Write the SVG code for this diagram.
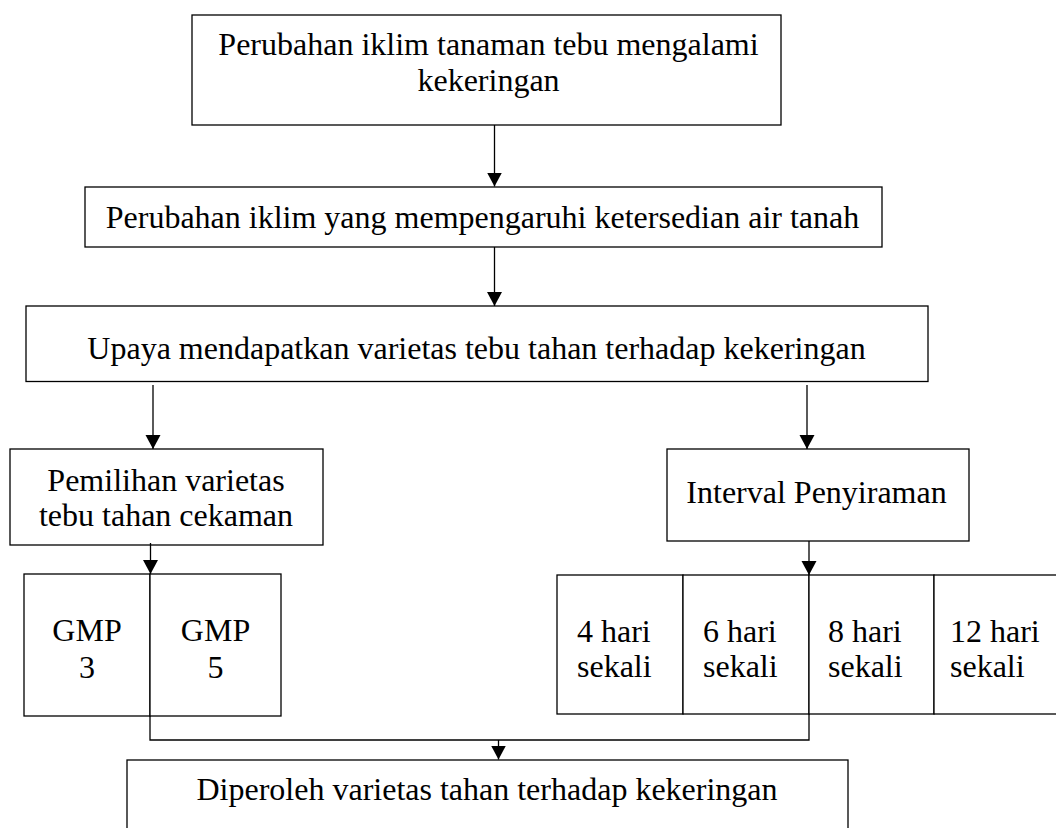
<svg xmlns="http://www.w3.org/2000/svg" width="1056" height="828" viewBox="0 0 1056 828">
<defs>
<style>
.box{fill:#fff;stroke:#000;stroke-width:1.3}
.ln{fill:none;stroke:#000;stroke-width:1.3}
.t{font-family:"Liberation Serif","Times New Roman",serif;font-size:32px;fill:#000}
.c{text-anchor:middle}
</style>
<marker id="ah" markerUnits="userSpaceOnUse" markerWidth="16" markerHeight="16" refX="14" refY="7.5" orient="auto">
<path d="M0,0 L14,7.5 L0,15 z" fill="#000"/>
</marker>
</defs>
<rect width="1056" height="828" fill="#fff"/>
<g id="n1">
<rect class="box" x="192" y="15" width="589" height="110"/>
<text class="t c" x="488.5" y="55">Perubahan iklim tanaman tebu mengalami</text>
<text class="t c" x="488.5" y="91">kekeringan</text>
</g>
<g id="n2">
<rect class="box" x="85" y="187" width="797" height="60"/>
<text class="t c" x="482.5" y="228">Perubahan iklim yang mempengaruhi ketersedian air tanah</text>
</g>
<g id="n3">
<rect class="box" x="26" y="306" width="902" height="75.5"/>
<text class="t c" x="476.5" y="359">Upaya mendapatkan varietas tebu tahan terhadap kekeringan</text>
</g>
<g id="n4">
<rect class="box" x="10" y="449" width="313" height="96"/>
<text class="t c" x="166" y="491">Pemilihan varietas</text>
<text class="t c" x="166" y="526">tebu tahan cekaman</text>
</g>
<g id="n5">
<rect class="box" x="667" y="449" width="302" height="92"/>
<text class="t c" x="816.5" y="503">Interval Penyiraman</text>
</g>
<g id="n6">
<rect class="box" x="24" y="574" width="126" height="142"/>
<text class="t c" x="87" y="641">GMP</text>
<text class="t c" x="87" y="678">3</text>
</g>
<g id="n7">
<rect class="box" x="150" y="574" width="131" height="142"/>
<text class="t c" x="215.5" y="641">GMP</text>
<text class="t c" x="215.5" y="678">5</text>
</g>
<g id="n8">
<rect class="box" x="557" y="575" width="126" height="139"/>
<text class="t" x="577" y="642">4 hari</text>
<text class="t" x="577" y="677">sekali</text>
</g>
<g id="n9">
<rect class="box" x="683" y="575" width="126" height="139"/>
<text class="t" x="703" y="642">6 hari</text>
<text class="t" x="703" y="677">sekali</text>
</g>
<g id="n10">
<rect class="box" x="809" y="575" width="125" height="139"/>
<text class="t" x="828" y="642">8 hari</text>
<text class="t" x="828" y="677">sekali</text>
</g>
<g id="n11">
<rect class="box" x="934" y="575" width="130" height="139"/>
<text class="t" x="950" y="642">12 hari</text>
<text class="t" x="950" y="677">sekali</text>
</g>
<g id="n12">
<rect class="box" x="127" y="760" width="721" height="90"/>
<text class="t c" x="487" y="800">Diperoleh varietas tahan terhadap kekeringan</text>
</g>
<g id="connectors">
<line class="ln" x1="494.5" y1="125" x2="494.5" y2="186.5" marker-end="url(#ah)"/>
<line class="ln" x1="494.5" y1="247" x2="494.5" y2="306" marker-end="url(#ah)"/>
<line class="ln" x1="153" y1="385" x2="153" y2="449" marker-end="url(#ah)"/>
<line class="ln" x1="807" y1="385" x2="807" y2="449" marker-end="url(#ah)"/>
<line class="ln" x1="150.5" y1="543" x2="150.5" y2="574" marker-end="url(#ah)"/>
<line class="ln" x1="809" y1="541" x2="809" y2="575" marker-end="url(#ah)"/>
<polyline class="ln" points="150,716 150,740 809,740 809,714"/>
<line class="ln" x1="498.5" y1="740" x2="498.5" y2="759.5" marker-end="url(#ah)"/>
</g>
</svg>
